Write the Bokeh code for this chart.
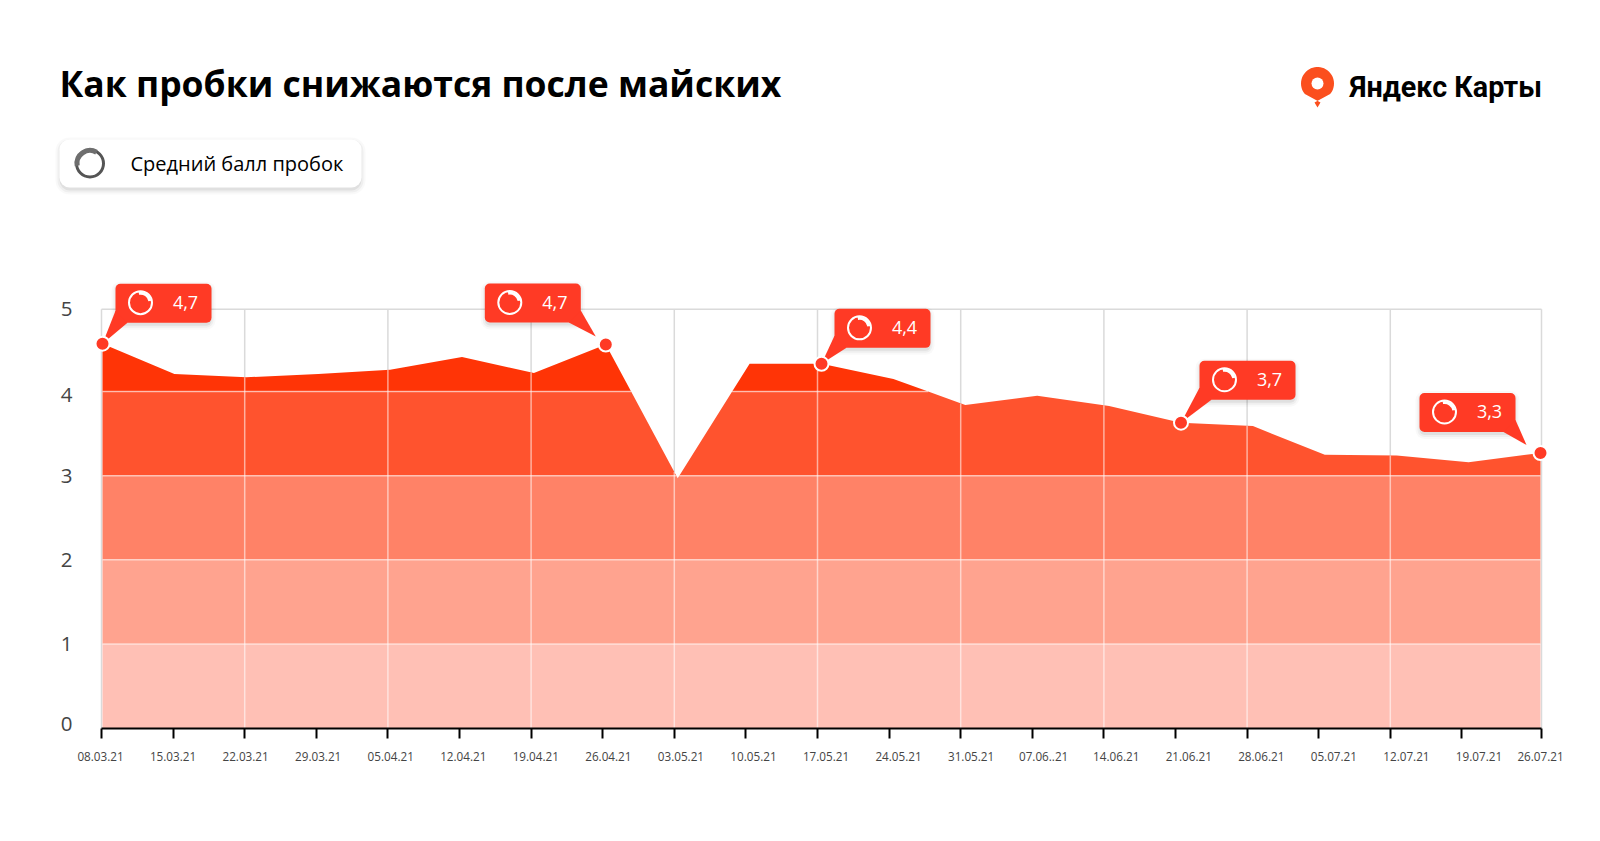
import numpy as np
from bokeh.embed import file_html
from bokeh.resources import INLINE
from bokeh.plotting import figure
from bokeh.models import Range1d, LinearAxis, FixedTicker, Label

# ---------- data ----------
dates = ["08.03.21","15.03.21","22.03.21","29.03.21","05.04.21","12.04.21","19.04.21",
         "26.04.21","03.05.21","10.05.21","17.05.21","24.05.21","31.05.21","07.06..21",
         "14.06.21","21.06.21","28.06.21","05.07.21","12.07.21","19.07.21","26.07.21"]
scores = [4.57,4.21,4.17,4.21,4.26,4.41,4.22,4.56,2.97,4.33,4.33,4.15,3.84,3.95,
          3.83,3.63,3.59,3.25,3.24,3.16,3.27]
callout_index = [0, 7, 10, 15, 20]
callout_text = ["4,7", "4,7", "4,4", "3,7", "3,3"]
y_labels = ["0", "1", "2", "3", "4", "5"]
title_text = "Как пробки снижаются после майских"
legend_text = "Средний балл пробок"
brand_text = "Яндекс Карты"

# ---------- page geometry (page pixels) ----------
W, H = 1584, 825
PX0, PXU = 102.0, 71.9      # index 0 position, pixels per index step
PY0, PYU = 727.5, 84.1      # score 0 position, pixels per score unit
FRAME_BOTTOM = 738
TOP_LINE = 4.98
def fx(px): return (px - PX0) / PXU
def fy(py): return (PY0 - py) / PYU
def sx(i): return PX0 + PXU * i
def sy(v): return PY0 - PYU * v

band_colors = ["#FFC0B5", "#FFA38F", "#FF8267", "#FF532E", "#FF3406"]
GREY = "#DADADA"
RED = "#FF3A25"
FONT = "Open Sans"

p = figure(width=W, height=H, output_backend="svg", toolbar_location=None,
           x_range=Range1d(fx(0), fx(W)), y_range=Range1d(fy(FRAME_BOTTOM), fy(0)),
           x_axis_type=None, y_axis_type=None,
           min_border_left=0, min_border_right=0, min_border_top=0, min_border_bottom=H - FRAME_BOTTOM,
           outline_line_color=None, background_fill_color="white", border_fill_color="white")
p.grid.visible = False

n = len(scores)
idx = np.arange(n, dtype=float)
vals = np.array(scores)
tick_px = [101 + 71.6 * i for i in range(n - 1)] + [1541]
tick_pos = [fx(v) for v in tick_px]
label_px = [100 + 72.55 * i for i in range(n - 1)] + [1540]
label_pos = [fx(v) for v in label_px]
grid_pos = tick_pos[2:-1:2] + [tick_pos[-1]]

# grey grid under the area
left_edge, right_edge = tick_pos[0], tick_pos[-1]
p.segment(x0=[left_edge] + grid_pos, y0=0, x1=[left_edge] + grid_pos, y1=TOP_LINE, line_color=GREY, line_width=1.5)
p.segment(x0=[left_edge], y0=[TOP_LINE], x1=[right_edge], y1=[TOP_LINE], line_color=GREY, line_width=1.5)

# area, split in horizontal bands at each whole score
cx, cy = list(idx), list(vals)
for k in range(1, 5):
    for i in range(n - 1):
        a, b = vals[i], vals[i + 1]
        if (a - k) * (b - k) < 0:
            cx.append(i + (k - a) / (b - a))
            cy.append(float(k))
order = np.argsort(cx)
cx = np.array(cx)[order]
cy = np.array(cy)[order]
for k, col in enumerate(band_colors):
    p.varea(x=cx, y1=np.minimum(cy, k), y2=np.minimum(cy, k + 1), fill_color=col)

# light grid lines over the area
for k in range(1, 5):
    p.line(x=cx, y=np.where(cy >= k, float(k), np.nan), line_color="white", line_alpha=0.55, line_width=1.5)
p.segment(x0=grid_pos[:-1], y0=0, x1=grid_pos[:-1], y1=np.interp(grid_pos[:-1], idx, vals),
          line_color="white", line_alpha=0.55, line_width=1.5)


def shadow(l, t, r, b, radius):
    for grow, alpha in ((4, 0.025), (2, 0.04), (0, 0.06)):
        p.quad(left=[fx(l - grow)], right=[fx(r + grow)], top=[fy(t + 2 - grow)], bottom=[fy(b + 3 + grow)],
               fill_color="black", fill_alpha=alpha, line_color=None, border_radius=radius + grow)


def card(l, t, r, b, radius, color):
    shadow(l, t, r, b, radius)
    p.quad(left=[fx(l)], right=[fx(r)], top=[fy(t)], bottom=[fy(b)],
           fill_color=color, line_color=None, border_radius=radius)


def put(text, px, py, size, color, align="center", style="normal", font=FONT):
    p.add_layout(Label(x=fx(px), y=fy(py), text=text, text_font=font, text_font_size=f"{size}px",
                       text_font_style=style, text_color=color, text_align=align, text_baseline="middle"))


# callouts: box offset from its marker, and tip offset
box_offset = [(13, -60), (-121, -61), (13, -55), (18.5, -62), (-121, -60)]
tip_offset = [(0, 0), (-10, -8), (0, 0), (0, 0), (-14, -8)]
BW, BH = 96, 39
for i, txt, (ox, oy), (tx, ty) in zip(callout_index, callout_text, box_offset, tip_offset):
    mx, my = sx(i), sy(scores[i])
    l, t = mx + ox, my + oy
    r, b = l + BW, t + BH
    card(l, t, r, b, 5, RED)
    if ox > 0:
        pts = [(mx + tx, my + ty), (l, b - 12), (l + 12, b)]
    else:
        pts = [(mx + tx, my + ty), (r - 12, b), (r, b - 12)]
    p.patch(x=[fx(q[0]) for q in pts], y=[fy(q[1]) for q in pts], fill_color=RED, line_color=None)
    p.scatter(x=[fx(l + 25)], y=[fy(t + 19)], size=23, marker="circle", fill_color=None, line_color="white", line_width=2)
    p.arc(x=[fx(l + 25)], y=[fy(t + 19)], radius=9.5, radius_units="screen",
          start_angle=np.radians(10), end_angle=np.radians(100), line_color="white", line_width=3)
    put(txt, l + 70, t + 18.5, 18, "white")

# markers
p.scatter(x=[float(i) for i in callout_index], y=[scores[i] for i in callout_index], size=14,
          marker="circle", fill_color=RED, line_color="white", line_width=2)

# axes
xticks = LinearAxis(ticker=FixedTicker(ticks=tick_pos), bounds=(tick_pos[0], tick_pos[-1]), fixed_location=0,
                    axis_line_color="black", axis_line_width=2,
                    major_tick_line_color="black", major_tick_line_width=2,
                    major_tick_out=14, major_tick_in=0, minor_tick_line_color=None,
                    major_label_text_color=None, major_label_text_font_size="1px", major_label_standoff=0)
p.add_layout(xticks, "below")
xlabels = LinearAxis(ticker=FixedTicker(ticks=label_pos), axis_line_color=None,
                     major_tick_line_color=None, minor_tick_line_color=None,
                     major_tick_out=0, major_tick_in=0, major_label_standoff=13,
                     major_label_overrides={float(a): b for a, b in zip(label_pos, dates)},
                     major_label_text_font=FONT, major_label_text_font_size="11.7px",
                     major_label_text_color="#444444")
p.add_layout(xlabels, "below")

y_pos = [0.05, 1.0, 2.0, 3.0, 3.96, 4.98]
yaxis = LinearAxis(ticker=FixedTicker(ticks=y_pos), fixed_location=fx(72),
                   axis_line_color=None, major_tick_line_color=None, minor_tick_line_color=None,
                   major_tick_out=0, major_tick_in=0, major_label_standoff=0,
                   major_label_overrides={float(a): b for a, b in zip(y_pos, y_labels)},
                   major_label_text_font=FONT, major_label_text_font_size="20.5px",
                   major_label_text_color="#444444", major_label_text_baseline="middle")
p.add_layout(yaxis, "left")

# header
put(title_text, 59, 82, 35.5, "#000000", "left", "bold")

card(59, 139, 361, 187, 10, "white")
p.scatter(x=[fx(89.5)], y=[fy(163)], size=27, marker="circle", fill_color=None, line_color="#555555", line_width=3)
p.arc(x=[fx(89.5)], y=[fy(163)], radius=13, radius_units="screen",
      start_angle=np.radians(60), end_angle=np.radians(190), line_color="#6E6E6E", line_width=5)
put(legend_text, 130, 163, 20, "#000000", "left")

# brand mark
ang = np.radians(np.linspace(-40, 220, 40))
pin_x = list(1317 + 16.5 * np.cos(ang)) + [1320, 1317, 1314]
pin_y = list(83 - 16.5 * np.sin(ang)) + [102, 107, 102]
p.patch(x=[fx(v) for v in pin_x], y=[fy(v) for v in pin_y], fill_color="#FB4F1E", line_color=None)
p.scatter(x=[fx(1317)], y=[fy(83)], size=12, marker="circle", fill_color="white", line_color=None)
put(brand_text, 1349, 86, 28.7, "#000000", "left", "bold", "Roboto")

open("out.html", "w").write(file_html(p, INLINE))
